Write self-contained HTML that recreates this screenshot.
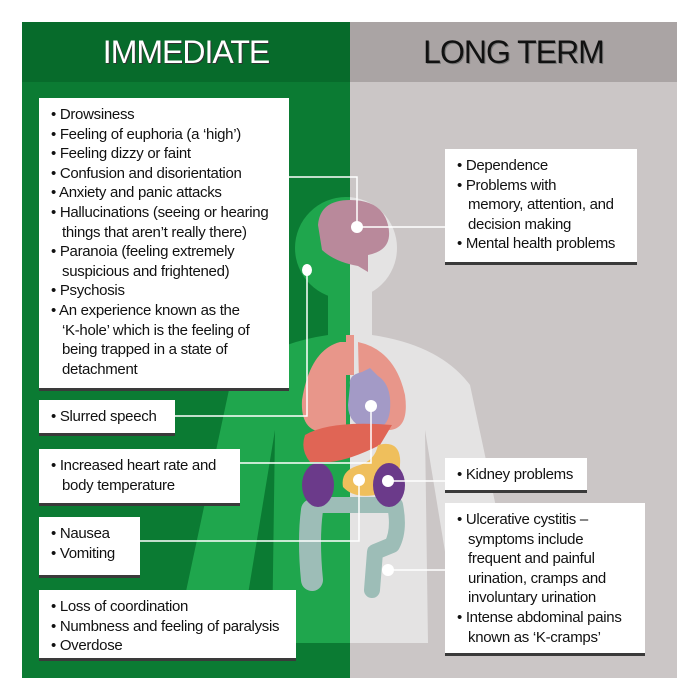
<!DOCTYPE html>
<html><head><meta charset="utf-8"><style>
body{margin:0;background:#fff;width:700px;height:700px;overflow:hidden;position:relative;font-family:"Liberation Sans",sans-serif}
.b{position:absolute;background:#fff;box-shadow:0 3px 0 #3a3a3a;font-size:15px;line-height:19.6px;color:#111;box-sizing:border-box;padding:7px 0 0 12px;letter-spacing:-0.3px;white-space:nowrap}
.b .c{padding-left:11px}
.h{position:absolute;top:22px;height:60px;font-size:32px;line-height:60px;text-align:center;letter-spacing:-1px}
</style></head><body>
<svg width="700" height="700" style="position:absolute;left:0;top:0">
<rect x="22" y="22" width="328" height="656" fill="#0b7b33"/>
<rect x="350" y="22" width="327" height="656" fill="#cbc6c6"/>
<rect x="22" y="22" width="328" height="60" fill="#076b2b"/>
<rect x="350" y="22" width="327" height="60" fill="#aaa4a4"/>
<defs><clipPath id="L"><rect x="0" y="0" width="350" height="700"/></clipPath><clipPath id="R"><rect x="350" y="0" width="350" height="700"/></clipPath></defs>
<g clip-path="url(#L)" fill="#1fa64d">
<circle cx="346" cy="248" r="51"/>
<path d="M350,290 L328,290 L328,335 Q260,345 230,385 L175,643 L240,643 L275,430 L272,643 L350,643 Z"/>
</g>
<g clip-path="url(#R)" fill="#e4e3e3">
<circle cx="346" cy="248" r="51"/>
<path d="M350,290 L372,290 L372,335 Q440,345 470,385 L525,643 L460,643 L425,430 L428,643 L350,643 Z"/>
</g>
<path d="M318,225 Q320,200 350,200 Q382,200 388,225 Q394,250 368,255 L368,272 L358,266 Q335,262 322,250 Z" fill="#b9899b"/>
<path d="M340,342 Q310,350 302,400 Q300,435 330,432 L346,425 L346,342 Z" fill="#e8968a"/>
<path d="M358,342 Q395,350 405,395 Q410,432 385,430 L360,420 Z" fill="#e8968a"/>
<rect x="346" y="335" width="8" height="40" fill="#e8968a"/>
<path d="M350,385 Q348,375 362,372 L370,368 L378,376 Q392,385 390,410 Q388,430 370,430 Q348,425 348,405 Z" fill="#a39ac6"/>
<path d="M305,435 Q330,420 392,425 L380,445 Q350,460 330,462 L310,462 Q300,450 305,435 Z" fill="#e06555"/>
<path d="M378,445 Q398,440 400,458 Q402,482 380,494 Q355,500 343,487 Q340,470 360,465 Q375,460 378,445 Z" fill="#efbf5c"/>
<g fill="none" stroke="#9dbdb7" stroke-linecap="round" stroke-linejoin="round">
<path d="M312,510 Q308,540 312,580" stroke-width="22"/>
<path d="M315,505 L395,505 Q400,530 392,545 L375,552 L372,590" stroke-width="16"/>
</g>
<ellipse cx="318" cy="485" rx="16" ry="22" fill="#6b3a8a"/>
<ellipse cx="389" cy="485" rx="16" ry="22" fill="#6b3a8a"/>
<g stroke="#fff" stroke-width="1.5" fill="none">
<polyline points="289,177 357,177 357,227"/>
<line x1="357" y1="227" x2="445" y2="227"/>
<polyline points="307,270 307,416 175,416"/>
<polyline points="371,406 371,463 240,463"/>
<polyline points="359,480 359,541 140,541"/>
<line x1="388" y1="481" x2="445" y2="481"/>
<line x1="388" y1="570" x2="445" y2="570"/>
</g>
<g fill="#fff">
<circle cx="357" cy="227" r="6"/><ellipse cx="307" cy="270" rx="5" ry="6"/>
<circle cx="371" cy="406" r="6"/><circle cx="359" cy="480" r="6"/>
<circle cx="388" cy="481" r="6"/><circle cx="388" cy="570" r="6"/>
</g>
</svg>
<div class="h" style="left:22px;width:328px;color:#fff;text-shadow:1px 1px 0 #333">IMMEDIATE</div>
<div class="h" style="left:350px;width:327px;color:#111;text-shadow:1px 1px 0 #777">LONG TERM</div>
<div class="b" style="left:39px;top:98px;width:250px;height:290px">
<div>• Drowsiness</div><div>• Feeling of euphoria (a ‘high’)</div><div>• Feeling dizzy or faint</div><div>• Confusion and disorientation</div><div>• Anxiety and panic attacks</div><div>• Hallucinations (seeing or hearing</div><div class="c">things that aren’t really there)</div><div>• Paranoia (feeling extremely</div><div class="c">suspicious and frightened)</div><div>• Psychosis</div><div>• An experience known as the</div><div class="c">‘K-hole’ which is the feeling of</div><div class="c">being trapped in a state of</div><div class="c">detachment</div></div>
<div class="b" style="left:39px;top:400px;width:136px;height:33px"><div>• Slurred speech</div></div>
<div class="b" style="left:39px;top:449px;width:201px;height:54px"><div>• Increased heart rate and</div><div class="c">body temperature</div></div>
<div class="b" style="left:39px;top:517px;width:101px;height:58px"><div>• Nausea</div><div>• Vomiting</div></div>
<div class="b" style="left:39px;top:590px;width:257px;height:68px"><div>• Loss of coordination</div><div>• Numbness and feeling of paralysis</div><div>• Overdose</div></div>
<div class="b" style="left:445px;top:149px;width:192px;height:113px"><div>• Dependence</div><div>• Problems with</div><div class="c">memory, attention, and</div><div class="c">decision making</div><div>• Mental health problems</div></div>
<div class="b" style="left:445px;top:458px;width:142px;height:32px"><div>• Kidney problems</div></div>
<div class="b" style="left:445px;top:503px;width:200px;height:150px"><div>• Ulcerative cystitis –</div><div class="c">symptoms include</div><div class="c">frequent and painful</div><div class="c">urination, cramps and</div><div class="c">involuntary urination</div><div>• Intense abdominal pains</div><div class="c">known as ‘K-cramps’</div></div>
</body></html>
